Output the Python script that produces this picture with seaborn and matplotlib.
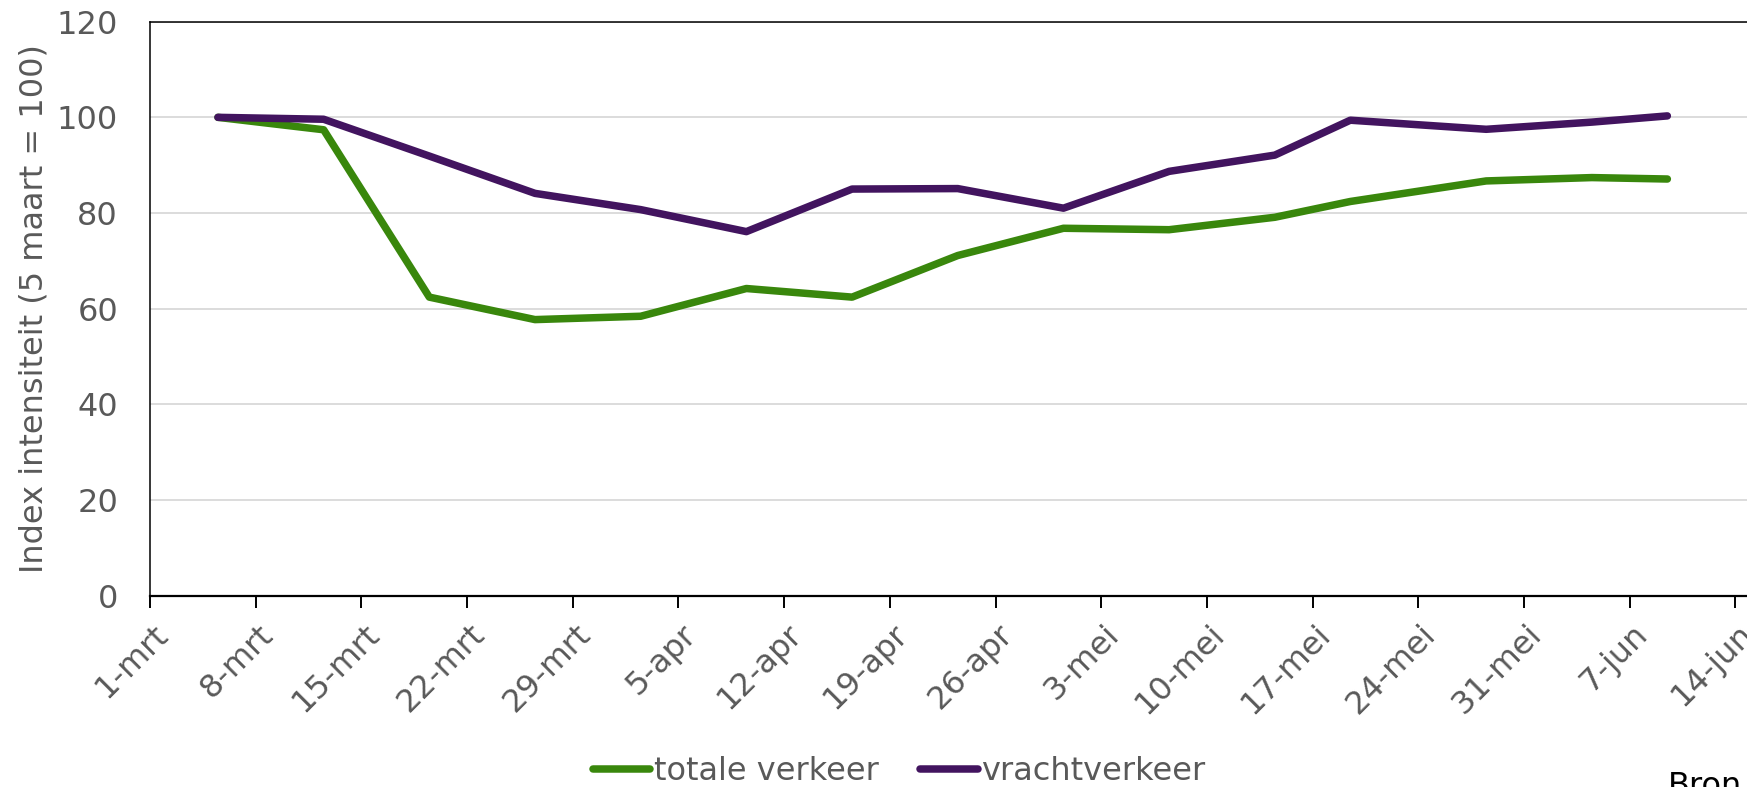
import pandas as pd
import seaborn as sns
import matplotlib.pyplot as plt
import matplotlib.transforms as mtransforms

# weekly index values (5 maart = 100)
datums = ['2020-03-05', '2020-03-12', '2020-03-19', '2020-03-26', '2020-04-02',
          '2020-04-09', '2020-04-16', '2020-04-23', '2020-04-30', '2020-05-07',
          '2020-05-14', '2020-05-19', '2020-05-28', '2020-06-04', '2020-06-09']
totale_verkeer = [100, 97.4, 62.4, 57.7, 58.4, 64.2, 62.4, 71.1, 76.8, 76.5,
                  79.1, 82.4, 86.7, 87.4, 87.1]
vrachtverkeer = [100, 99.6, 91.9, 84.1, 80.7, 76.1, 85.0, 85.1, 81.0, 88.7,
                 92.1, 99.4, 97.5, 99.0, 100.3]
reeksen = ['totale verkeer', 'vrachtverkeer']
kleuren = ['#39870c', '#42145f']
maanden = {3: 'mrt', 4: 'apr', 5: 'mei', 6: 'jun'}

grijs = '#595959'
fs = 23

# Excel puts each date in the middle of its day
x = pd.to_datetime(datums) + pd.Timedelta(hours=12)
df = pd.DataFrame({
    'datum': list(x) * 2,
    'index': totale_verkeer + vrachtverkeer,
    'reeks': [reeksen[0]] * len(x) + [reeksen[1]] * len(x),
})

sns.set_theme(style='white')
plt.rcParams['font.family'] = ['DejaVu Sans']

fig = plt.figure(figsize=(17.47, 7.87), dpi=100)
# axes runs past the right edge, like the cropped original
ax = fig.add_axes([150 / 1747, 191.5 / 787, 1691 / 1747, 573.8 / 787])

sns.lineplot(data=df, x='datum', y='index', hue='reeks', palette=kleuren,
             linewidth=5.4, solid_capstyle='round', legend=False, ax=ax)

ax.set_xlim(pd.Timestamp('2020-03-01'), pd.Timestamp('2020-06-21'))
ax.set_ylim(0, 120)
ax.set_yticks(range(0, 121, 20))
ax.grid(axis='y', color='#d9d9d9', linewidth=1.3)
ax.set_axisbelow(True)

ticks = pd.date_range('2020-03-01', '2020-06-14', freq='7D')
ax.set_xticks(ticks)
ax.set_xticklabels([f'{d.day}-{maanden[d.month]}' for d in ticks])

ax.tick_params(axis='y', length=0, pad=23, labelsize=fs, labelcolor=grijs)
ax.tick_params(axis='x', length=8.6, width=1.4, color='black', pad=16,
               labelsize=fs, labelcolor=grijs, bottom=True)
offset = mtransforms.ScaledTranslation(13 / 100, 0, fig.dpi_scale_trans)
for lab in ax.get_xticklabels():
    lab.set_rotation(45)
    lab.set_ha('right')
    lab.set_va('center')
    lab.set_rotation_mode('anchor')
    lab.set_transform(lab.get_transform() + offset)

ax.set_xlabel('')
ax.set_ylabel('Index intensiteit (5 maart = 100)', fontsize=fs, color=grijs)
ax.yaxis.set_label_coords(-100 / 1691, 0.5)

for side in ['left', 'top', 'bottom']:
    ax.spines[side].set_color('black')
ax.spines['left'].set_linewidth(1.1)
ax.spines['top'].set_linewidth(1.1)
ax.spines['bottom'].set_linewidth(1.6)
ax.spines['right'].set_visible(False)

fig.legend(handles=ax.lines[:2], labels=reeksen, loc='center',
           bbox_to_anchor=(899 / 1747, 15 / 787), ncol=2, frameon=False,
           fontsize=fs, labelcolor=grijs, handlelength=1.8, handletextpad=0.1,
           columnspacing=1.3, borderpad=0, borderaxespad=0)

fig.text(1668 / 1747, 16 / 787, 'Bron', fontsize=fs, color='black',
         ha='left', va='top')

fig.savefig('out.png', dpi=100)
